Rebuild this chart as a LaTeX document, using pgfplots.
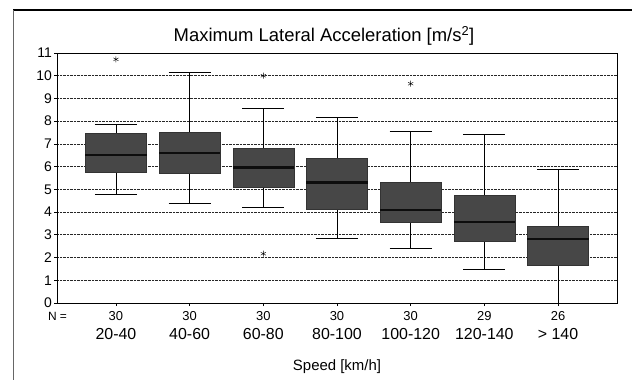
\documentclass[border=0pt]{standalone}
\usepackage{fontspec}
\setmainfont{Liberation Sans}
\usepackage{pgfplots}
\pgfplotsset{compat=1.18}
\usepgfplotslibrary{statistics}
\begin{document}
\begin{tikzpicture}
\useasboundingbox (0bp,0bp) rectangle (632bp,380bp);
\draw[line width=1.3pt] (13bp,370bp) -- (632bp,370bp);
\draw[black!60, line width=0.6pt] (13bp,0bp) -- (13bp,370bp);
\node[font=\fontsize{18.5}{20}\selectfont] at (324bp,344bp) {Maximum Lateral Acceleration [m/s\textsuperscript{2}]};
\node[font=\fontsize{12}{14}\selectfont] at (57.5bp,64bp) {N =};
\node[font=\fontsize{15}{17}\selectfont] at (337bp,13bp) {Speed [km/h]};
\begin{axis}[
  at={(57bp,77bp)}, anchor=south west,
  scale only axis, width=560bp, height=250bp,
  xmin=-0.8, xmax=6.8, ymin=0, ymax=11,
  ytick={0,1,...,11}, xtick={0,1,...,6},
  xticklabels={{30\\[4bp]{\fontsize{16}{18}\selectfont 20-40}},
               {30\\[4bp]{\fontsize{16}{18}\selectfont 40-60}},
               {30\\[4bp]{\fontsize{16}{18}\selectfont 60-80}},
               {30\\[4bp]{\fontsize{16}{18}\selectfont 80-100}},
               {30\\[4bp]{\fontsize{16}{18}\selectfont 100-120}},
               {29\\[4bp]{\fontsize{16}{18}\selectfont 120-140}},
               {26\\[4bp]{\fontsize{16}{18}\selectfont > 140}}},
  xticklabel style={align=center, font=\fontsize{13}{15}\selectfont, inner sep=1bp, yshift=-4bp},
  yticklabel style={font=\fontsize{14}{15}\selectfont, inner sep=2bp},
  /pgf/number format/assume math mode=true,
  tick align=outside, tick pos=left,
  major tick length=3bp,
  tick style={black, line width=0.8pt},
  axis line style={black, line width=0.8pt},
  ymajorgrids,
  major grid style={densely dotted, black!85, line width=0.7pt},
  boxplot/draw direction=y,
  boxplot/box extend=0.83,
  boxplot/whisker extend=0.57,
  boxplot/every median/.style={line width=2.2pt, black!95},
  boxplot/every box/.style={draw=black!80, fill=black!72},
  boxplot/every whisker/.style={black, line width=0.7pt},
  every mark/.append style={line width=0.9pt},
]
\addplot[boxplot prepared={draw position=0, lower whisker=4.78, lower quartile=5.76,
  median=6.51, upper quartile=7.45, upper whisker=7.85},
  mark=asterisk, mark size=3pt, black]
  table[row sep=\\, y index=0] {v\\ 10.72\\};
\addplot[boxplot prepared={draw position=1, lower whisker=4.4, lower quartile=5.73,
  median=6.6, upper quartile=7.53, upper whisker=10.16},
  mark=asterisk, mark size=3pt, black]
  coordinates {};
\addplot[boxplot prepared={draw position=2, lower whisker=4.22, lower quartile=5.1,
  median=5.96, upper quartile=6.83, upper whisker=8.56},
  mark=asterisk, mark size=3pt, black]
  table[row sep=\\, y index=0] {v\\ 10.0\\ 2.17\\};
\addplot[boxplot prepared={draw position=3, lower whisker=2.86, lower quartile=4.12,
  median=5.3, upper quartile=6.36, upper whisker=8.19},
  mark=asterisk, mark size=3pt, black]
  coordinates {};
\addplot[boxplot prepared={draw position=4, lower whisker=2.42, lower quartile=3.55,
  median=4.08, upper quartile=5.3, upper whisker=7.54},
  mark=asterisk, mark size=3pt, black]
  table[row sep=\\, y index=0] {v\\ 9.65\\};
\addplot[boxplot prepared={draw position=5, lower whisker=1.48, lower quartile=2.7,
  median=3.55, upper quartile=4.74, upper whisker=7.43},
  mark=asterisk, mark size=3pt, black]
  coordinates {};
\addplot[boxplot prepared={draw position=6, lower whisker=0, lower quartile=1.68,
  median=2.8, upper quartile=3.4, upper whisker=5.9},
  mark=asterisk, mark size=3pt, black]
  coordinates {};
\end{axis}
\end{tikzpicture}
\end{document}
